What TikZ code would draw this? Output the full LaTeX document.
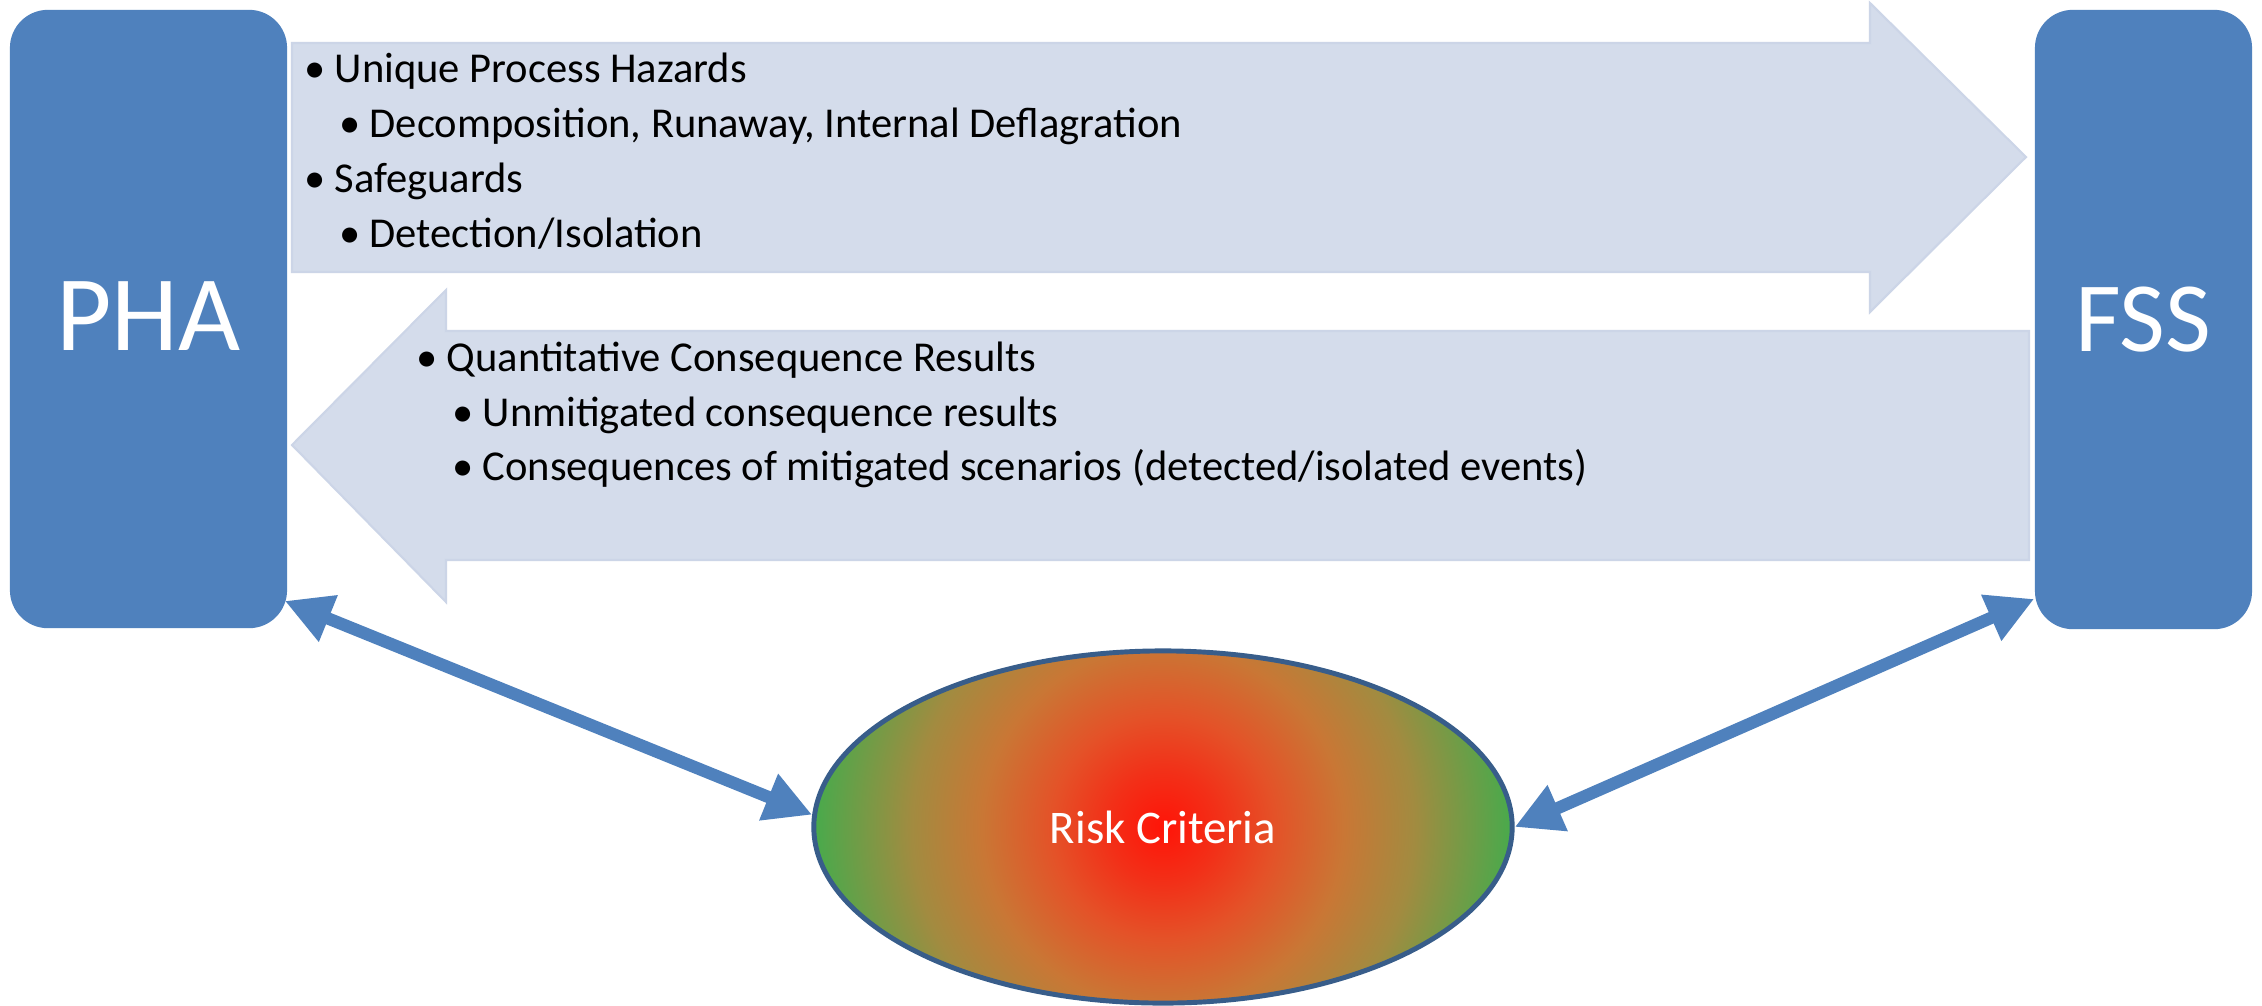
\documentclass[tikz,border=0pt]{standalone}
\usepackage{fontspec}
\setmainfont{Carlito}
\usetikzlibrary{shapes.geometric,arrows.meta,calc}
\definecolor{boxblue}{HTML}{4F81BD}
\definecolor{arrowfill}{HTML}{D4DCEB}
\definecolor{arrowedge}{HTML}{CCD5E7}
\definecolor{ellborder}{HTML}{385D8A}
\definecolor{rsA}{HTML}{FF1408}
\definecolor{rsB}{HTML}{F23018}
\definecolor{rsC}{HTML}{E45228}
\definecolor{rsD}{HTML}{C97735}
\definecolor{rsE}{HTML}{A28B40}
\definecolor{rsF}{HTML}{48AA4C}
\pgfdeclareradialshading{riskshade}{\pgfpoint{0bp}{0bp}}{color(0bp)=(rsA); color(4bp)=(rsB); color(8bp)=(rsC); color(13bp)=(rsD); color(18bp)=(rsE); color(25bp)=(rsF); color(50bp)=(rsF)}
\begin{document}
\begin{tikzpicture}[x=0.01cm,y=-0.01cm,
  bluebox/.style={rectangle, rounded corners=0.38cm, fill=boxblue, text=white, inner sep=0},
  bigarrow/.style={fill=arrowfill, draw=arrowedge, line width=0.6pt, line join=miter},
  listtext/.style={anchor=base west, inner sep=0, font=\fontsize{12.1}{14}\selectfont},
  riskell/.style={ellipse, draw=ellborder, line width=1.4pt, text=white, inner sep=0, font=\fontsize{13.3}{16}\selectfont},
  conn/.style={draw=boxblue, line width=3.5pt, {Triangle[length=4.7mm,width=4.7mm]}-{Triangle[length=4.7mm,width=4.7mm]}}
]
\useasboundingbox (0,0) rectangle (2262,1005);
\fill[white] (0,0) rectangle (2262,1005);
% big arrows
\filldraw[bigarrow] (292,43) -- (1870,43) -- (1870,3) -- (2026,157) -- (1870,312) -- (1870,272) -- (292,272) -- cycle;
\filldraw[bigarrow] (292,445) -- (446,290) -- (446,331) -- (2029,331) -- (2029,560) -- (446,560) -- (446,602) -- cycle;
% boxes
\node[bluebox, minimum width=2.77cm, minimum height=6.18cm, font=\fontsize{30.5}{36}\selectfont] (pha) at (148.5,319) {\raisebox{0.05cm}{PHA}};
\node[bluebox, minimum width=2.17cm, minimum height=6.19cm, font=\fontsize{28.3}{34}\selectfont] (fss) at (2143.5,319.5) {FSS};
% texts
\node[listtext] (t1) at (304,82) {\makebox[0.30cm][l]{•}Unique Process Hazards};
\node[listtext] (t2) at (339,137) {\makebox[0.30cm][l]{•}Decomposition, Runaway, Internal Deflagration};
\node[listtext] (t3) at (304,192) {\makebox[0.30cm][l]{•}Safeguards};
\node[listtext] (t4) at (339,247) {\makebox[0.30cm][l]{•}Detection/Isolation};
\node[listtext] (b1) at (416,371) {\makebox[0.30cm][l]{•}Quantitative Consequence Results};
\node[listtext] (b2) at (452,426) {\makebox[0.30cm][l]{•}Unmitigated consequence results};
\node[listtext] (b3) at (452,480) {\makebox[0.30cm][l]{•}Consequences of mitigated scenarios (detected/isolated events)};
% ellipse: circular radial gradient clipped to the ellipse
\begin{scope}
  \clip (1163,827) ellipse [x radius=349, y radius=176];
  \shade[shading=riskshade] (814,478) rectangle (1512,1176);
\end{scope}
\node[riskell, minimum width=6.98cm, minimum height=3.52cm] (risk) at (1163,827) {Risk Criteria};
% connectors
\draw[conn] ($(pha.south east)+(-3,-28)$) -- (risk.178);
\draw[conn] (risk.east) -- ($(fss.south west)+(0,-31)$);
\end{tikzpicture}
\end{document}
